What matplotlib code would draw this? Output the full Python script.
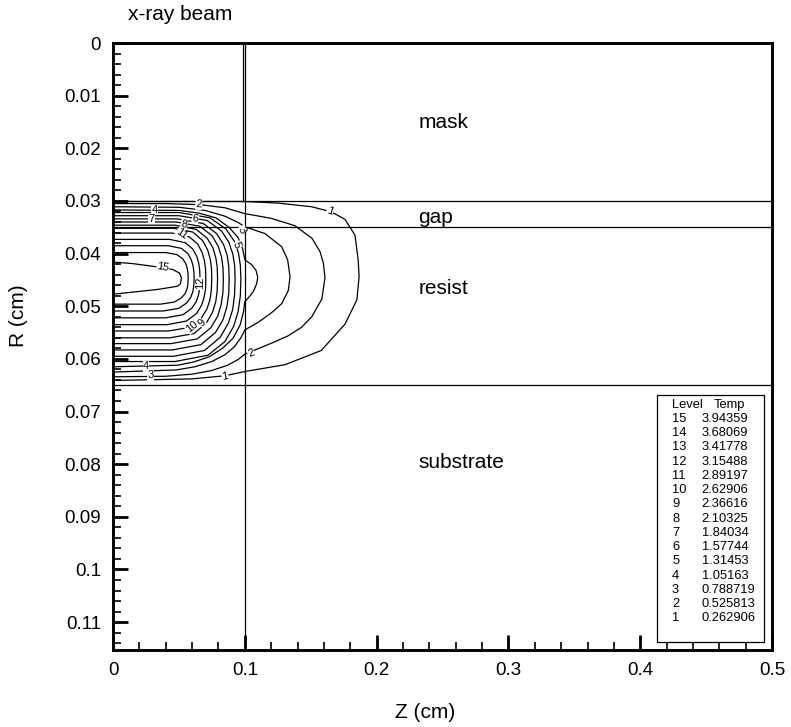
import matplotlib
matplotlib.use("Agg")
import matplotlib.pyplot as plt
from matplotlib.patches import Rectangle
from matplotlib.ticker import MultipleLocator, FuncFormatter

plt.rcParams['font.family'] = ['Liberation Sans', 'DejaVu Sans']

# temperature contour lines, (Z, R) in cm
c15 = [(0, 0.0416), (0.015, 0.0419), (0.030, 0.0424), (0.045, 0.0430), (0.0505, 0.0437),
       (0.0519, 0.0446), (0.0512, 0.0457), (0.049, 0.0462), (0.034, 0.0468), (0.012, 0.0474),
       (0, 0.0477)]
c14 = [(0, 0.0398), (0.040, 0.0398), (0.0485, 0.0402), (0.0529, 0.0410), (0.0552, 0.0419),
       (0.0563, 0.0428), (0.0569, 0.0438), (0.0570, 0.0448), (0.0568, 0.0458), (0.0562, 0.0467),
       (0.0547, 0.0476), (0.0519, 0.0484), (0.0465, 0.0492), (0.036, 0.0496), (0, 0.0496)]
c13 = [(0, 0.0385), (0.042, 0.0385), (0.0518, 0.0390), (0.0568, 0.0400), (0.0594, 0.0412),
       (0.0607, 0.0423), (0.0614, 0.0435), (0.0615, 0.0448), (0.0613, 0.0461), (0.0606, 0.0472),
       (0.0590, 0.0483), (0.0558, 0.0494), (0.0498, 0.0504), (0.038, 0.0509), (0, 0.0509)]
c12 = [(0, 0.0373), (0.043, 0.0373), (0.0546, 0.0379), (0.0604, 0.0391), (0.0635, 0.0405),
       (0.0651, 0.0419), (0.0658, 0.0433), (0.0660, 0.0448), (0.0658, 0.0463), (0.0650, 0.0477),
       (0.0632, 0.0491), (0.0597, 0.0504), (0.0531, 0.0516), (0.040, 0.0522), (0, 0.0522)]
c11 = [(0, 0.0361), (0.045, 0.0361), (0.0578, 0.0368), (0.0643, 0.0382), (0.0676, 0.0398),
       (0.0694, 0.0414), (0.0702, 0.0430), (0.0704, 0.0448), (0.0702, 0.0466), (0.0692, 0.0482),
       (0.0672, 0.0498), (0.0633, 0.0514), (0.0558, 0.0528), (0.041, 0.0535), (0, 0.0535)]
c10 = [(0, 0.0352), (0.046, 0.0352), (0.0605, 0.0359), (0.0679, 0.0375), (0.0718, 0.0393),
       (0.0738, 0.0411), (0.0747, 0.0428), (0.0749, 0.0448), (0.0746, 0.0469), (0.0736, 0.0487),
       (0.0713, 0.0505), (0.0669, 0.0523), (0.0585, 0.0540), (0.042, 0.0547), (0, 0.0547)]
c09 = [(0, 0.0346), (0.047, 0.0346), (0.0632, 0.0354), (0.0715, 0.0371), (0.0758, 0.0389),
       (0.0780, 0.0408), (0.0791, 0.0427), (0.0793, 0.0448), (0.0790, 0.0471), (0.0779, 0.0492),
       (0.0754, 0.0512), (0.0705, 0.0533), (0.0612, 0.0552), (0.043, 0.0560), (0, 0.0560)]
c08 = [(0, 0.0340), (0.048, 0.0340), (0.0659, 0.0348), (0.0751, 0.0366), (0.0798, 0.0386),
       (0.0823, 0.0406), (0.0834, 0.0426), (0.0837, 0.0448), (0.0834, 0.0473), (0.0821, 0.0496),
       (0.0794, 0.0519), (0.0741, 0.0541), (0.0639, 0.0562), (0.044, 0.0571), (0, 0.0571)]
c07 = [(0, 0.0334), (0.049, 0.0334), (0.0686, 0.0343), (0.0786, 0.0362), (0.0839, 0.0383),
       (0.0866, 0.0403), (0.0878, 0.0424), (0.0881, 0.0448), (0.0878, 0.0476), (0.0864, 0.0501),
       (0.0834, 0.0526), (0.0777, 0.0550), (0.0666, 0.0573), (0.045, 0.0583), (0, 0.0583)]
c06 = [(0, 0.0328), (0.050, 0.0328), (0.0714, 0.0337), (0.0823, 0.0357), (0.0880, 0.0379),
       (0.0909, 0.0401), (0.0923, 0.0423), (0.0926, 0.0448), (0.0922, 0.0478), (0.0908, 0.0506),
       (0.0875, 0.0532), (0.0813, 0.0559), (0.0694, 0.0584), (0.046, 0.0595), (0, 0.0595)]
c05 = [(0, 0.0322), (0.050, 0.0322), (0.0736, 0.0332), (0.0856, 0.0353), (0.0919, 0.0376),
       (0.0952, 0.0399), (0.0966, 0.0422), (0.0970, 0.0448), (0.0966, 0.0480), (0.0950, 0.0509),
       (0.0916, 0.0538), (0.0849, 0.0567), (0.0721, 0.0593), (0.047, 0.0605), (0, 0.0605)]
c04 = [(0, 0.0317), (0.050, 0.0318), (0.065, 0.0323), (0.078, 0.0332), (0.088, 0.0350),
       (0.095, 0.0370), (0.0985, 0.0392), (0.1, 0.0412), (0.1052, 0.0421), (0.1085, 0.0432),
       (0.1098, 0.0445), (0.109, 0.0457), (0.1065, 0.0472), (0.1027, 0.0484), (0.1, 0.0491),
       (0.099, 0.0510), (0.0965, 0.0535), (0.091, 0.0561), (0.083, 0.0580), (0.073, 0.0596),
       (0.061, 0.0606), (0.049, 0.0612), (0, 0.0615)]
c03 = [(0, 0.0311), (0.050, 0.0312), (0.070, 0.0318), (0.085, 0.0329), (0.095, 0.0341),
       (0.1, 0.0349), (0.1153, 0.0362), (0.128, 0.0387), (0.1325, 0.0412), (0.1343, 0.0444),
       (0.133, 0.0470), (0.128, 0.0495), (0.1204, 0.0512), (0.1105, 0.0530), (0.1, 0.0545),
       (0.097, 0.0560), (0.092, 0.0577), (0.085, 0.0592), (0.075, 0.0605), (0.062, 0.0615),
       (0.048, 0.0621), (0, 0.0625)]
c02 = [(0, 0.0305), (0.040, 0.0305), (0.066, 0.0307), (0.085, 0.0313), (0.1, 0.0324),
       (0.120, 0.0333), (0.138, 0.0347), (0.151, 0.0371), (0.157, 0.0396), (0.1596, 0.0418),
       (0.1608, 0.0446), (0.1585, 0.0486), (0.1508, 0.0520), (0.143, 0.0540), (0.133, 0.0556),
       (0.1204, 0.0570), (0.1077, 0.0583), (0.1, 0.0591), (0.095, 0.0601), (0.087, 0.0612),
       (0.075, 0.0622), (0.060, 0.0629), (0.040, 0.0633), (0, 0.0634)]
c01 = [(0, 0.0301), (0.1, 0.0301), (0.125, 0.0304), (0.1507, 0.0311), (0.166, 0.0321),
       (0.176, 0.0335), (0.1836, 0.0365), (0.186, 0.0412), (0.1867, 0.0444), (0.185, 0.0488),
       (0.176, 0.0534), (0.158, 0.0584), (0.1305, 0.0611), (0.1, 0.0624), (0.085, 0.0632),
       (0.060, 0.0638), (0, 0.0641)]
contour_lines = [c01, c02, c03, c04, c05, c06, c07, c08, c09, c10, c11, c12, c13, c14, c15]

# inline contour labels
lab_text = ['1', '2', '4', '7', '8', '6', '3', '11', '5', '15', '12', '10', '9', '2', '4', '3', '1']
lab_z = [0.1647, 0.065, 0.0316, 0.029, 0.054, 0.0625, 0.0974, 0.052, 0.0936, 0.038, 0.066,
         0.0597, 0.0673, 0.1047, 0.0250, 0.0285, 0.085]
lab_r = [0.0319, 0.0307, 0.0317, 0.0334, 0.0344, 0.0334, 0.0355, 0.0363, 0.0384, 0.0425, 0.0456,
         0.0539, 0.0532, 0.0589, 0.0614, 0.0631, 0.0634]
lab_rot = [-20, -5, 0, 0, -10, -10, -60, -35, -70, -10, 90, 40, 50, 20, 0, 0, 10]

# legend table
levels = [15, 14, 13, 12, 11, 10, 9, 8, 7, 6, 5, 4, 3, 2, 1]
temps = ['3.94359', '3.68069', '3.41778', '3.15488', '2.89197', '2.62906', '2.36616', '2.10325',
         '1.84034', '1.57744', '1.31453', '1.05163', '0.788719', '0.525813', '0.262906']

# layer boundaries (R, cm) and region names
boundaries = [0.03, 0.035, 0.065]
regions = ['mask', 'gap', 'resist', 'substrate']
region_r = [0.0150, 0.0332, 0.0467, 0.0796]

fig = plt.figure(figsize=(7.91, 7.27), dpi=100)
ax = fig.add_axes([0.1429, 0.1059, 0.8331, 0.8349])
ax.set_xlim(0, 0.5)
ax.set_ylim(0.1153, 0)

lw = 0.9
for b in boundaries:
    ax.axhline(b, color='k', lw=lw)
ax.axvline(0.1, color='k', lw=lw)
ax.plot([0.0985, 0.0985], [0, 0.03], color='k', lw=lw)

for line in contour_lines:
    zs = [p[0] for p in line]
    rs = [p[1] for p in line]
    ax.plot(zs, rs, color='k', lw=lw, solid_joinstyle='round')

for t, z, r, rot in zip(lab_text, lab_z, lab_r, lab_rot):
    ax.text(z, r, t, fontsize=8, rotation=rot, ha='center', va='center',
            bbox=dict(facecolor='white', edgecolor='none', pad=0.2))

for name, r in zip(regions, region_r):
    ax.text(0.2315, r, name, fontsize=15, ha='left', va='center')

# legend box
ax.add_patch(Rectangle((0.825, 0.0132), 0.163, 0.4068, transform=ax.transAxes,
                       facecolor='white', edgecolor='k', lw=lw, zorder=3))
ax.text(0.8483, 0.4036, 'Level', transform=ax.transAxes, fontsize=9.3, va='center', zorder=4)
ax.text(0.912, 0.4036, 'Temp', transform=ax.transAxes, fontsize=9.3, va='center', zorder=4)
for i, (lv, tp) in enumerate(zip(levels, temps)):
    y = 0.3806 - i * 0.02346
    ax.text(0.8483, y, str(lv), transform=ax.transAxes, fontsize=9.3, va='center', zorder=4)
    ax.text(0.8933, y, tp, transform=ax.transAxes, fontsize=9.3, va='center', zorder=4)

ax.xaxis.set_major_locator(MultipleLocator(0.1))
ax.xaxis.set_minor_locator(MultipleLocator(0.02))
ax.yaxis.set_major_locator(MultipleLocator(0.01))
ax.yaxis.set_minor_locator(MultipleLocator(0.002))
fmt = FuncFormatter(lambda v, pos: f'{round(v, 3):g}')
ax.xaxis.set_major_formatter(fmt)
ax.yaxis.set_major_formatter(fmt)
ax.tick_params(which='major', direction='in', length=11, width=2.0, labelsize=13.5, pad=8.5,
               top=False, right=False)
ax.tick_params(which='minor', direction='in', length=6, width=1.2, top=False, right=False)
for s in ax.spines.values():
    s.set_linewidth(2.1)
    s.set_zorder(5)

fig.text(18 / 791, 1 - 316 / 727, 'R (cm)', rotation=90, ha='center', va='center', fontsize=15)
fig.text(425 / 791, 1 - 713 / 727, 'Z (cm)', ha='center', va='center', fontsize=15)
fig.text(128 / 791, 1 - 15 / 727, 'x-ray beam', ha='left', va='center', fontsize=15)

fig.savefig('out.png', dpi=100)
